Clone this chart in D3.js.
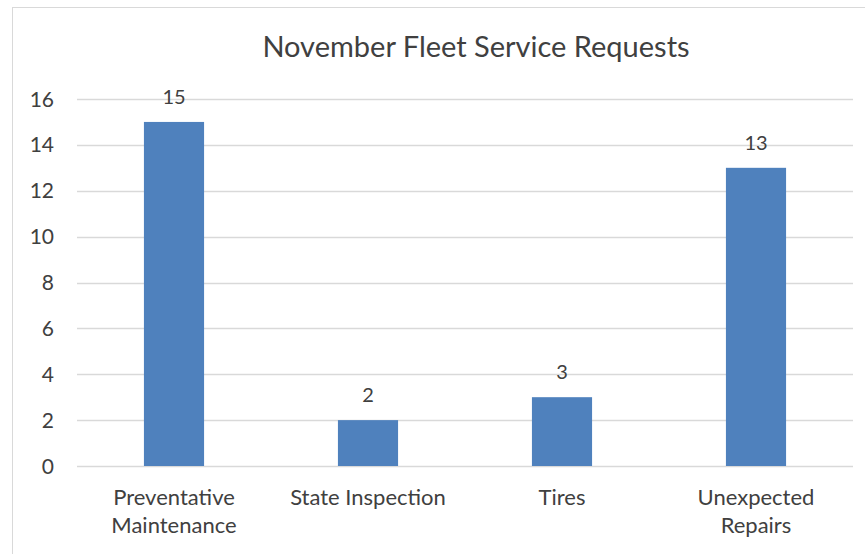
<!DOCTYPE html>
<html>
<head>
<meta charset="utf-8">
<script src="https://cdn.jsdelivr.net/npm/d3@7"></script>
<style>
  body { margin: 0; background: #fff; }
  svg { display: block; font-family: Lato, "Open Sans", sans-serif; }
</style>
</head>
<body>
<svg id="chart" width="865" height="554"></svg>
<script>
// data
const categories = [["Preventative", "Maintenance"], ["State Inspection"], ["Tires"], ["Unexpected", "Repairs"]];
const values = [15, 2, 3, 13];
const yTicks = [0, 2, 4, 6, 8, 10, 12, 14, 16];
const title = "November Fleet Service Requests";

const svg = d3.select('#chart');
const textCol = '#404040';

// chart frame (runs off the right/bottom edge)
svg.append('rect')
  .attr('x', 12.5).attr('y', 7.5)
  .attr('width', 900).attr('height', 600)
  .attr('fill', 'none').attr('stroke', '#d9d9d9');

const x = d3.scaleBand()
  .domain(categories.map((c, i) => i))
  .range([77, 853])
  .paddingInner(0.69).paddingOuter(0.345);

const y = d3.scaleLinear().domain([0, 16]).range([466, 99]);

// gridlines
svg.append('g').selectAll('line')
  .data(yTicks)
  .join('line')
    .attr('x1', 77).attr('x2', 853)
    .attr('y1', d => Math.round(y(d)) + 0.5).attr('y2', d => Math.round(y(d)) + 0.5)
    .attr('stroke', '#d9d9d9').attr('stroke-width', 1.3);

// y tick labels
svg.append('g').selectAll('text')
  .data(yTicks)
  .join('text')
    .attr('x', 54).attr('y', d => y(d))
    .attr('dy', '0.36em')
    .attr('text-anchor', 'end')
    .attr('font-size', 21)
    .attr('fill', textCol)
    .text(d => d);

// bars
svg.append('g').selectAll('rect')
  .data(values)
  .join('rect')
    .attr('x', (d, i) => x(i))
    .attr('width', x.bandwidth())
    .attr('y', d => y(d))
    .attr('height', d => y(0) - y(d))
    .attr('fill', '#4f81bd');

// data labels
svg.append('g').selectAll('text')
  .data(values)
  .join('text')
    .attr('x', (d, i) => x(i) + x.bandwidth() / 2)
    .attr('y', d => y(d) - 18)
    .attr('text-anchor', 'middle')
    .attr('font-size', 20)
    .attr('fill', textCol)
    .text(d => d);

// category labels
const cat = svg.append('g').selectAll('text')
  .data(categories)
  .join('text')
    .attr('x', (d, i) => x(i) + x.bandwidth() / 2)
    .attr('y', 505)
    .attr('text-anchor', 'middle')
    .attr('font-size', 22)
    .attr('fill', textCol);
cat.selectAll('tspan')
  .data(d => d)
  .join('tspan')
    .attr('x', function() { return this.parentNode.getAttribute('x'); })
    .attr('dy', (d, j) => j ? 28 : 0)
    .text(d => d);

// title
svg.append('text')
  .attr('x', 476).attr('y', 57)
  .attr('text-anchor', 'middle')
  .attr('font-size', 29)
  .attr('fill', textCol)
  .text(title);
</script>
</body>
</html>
